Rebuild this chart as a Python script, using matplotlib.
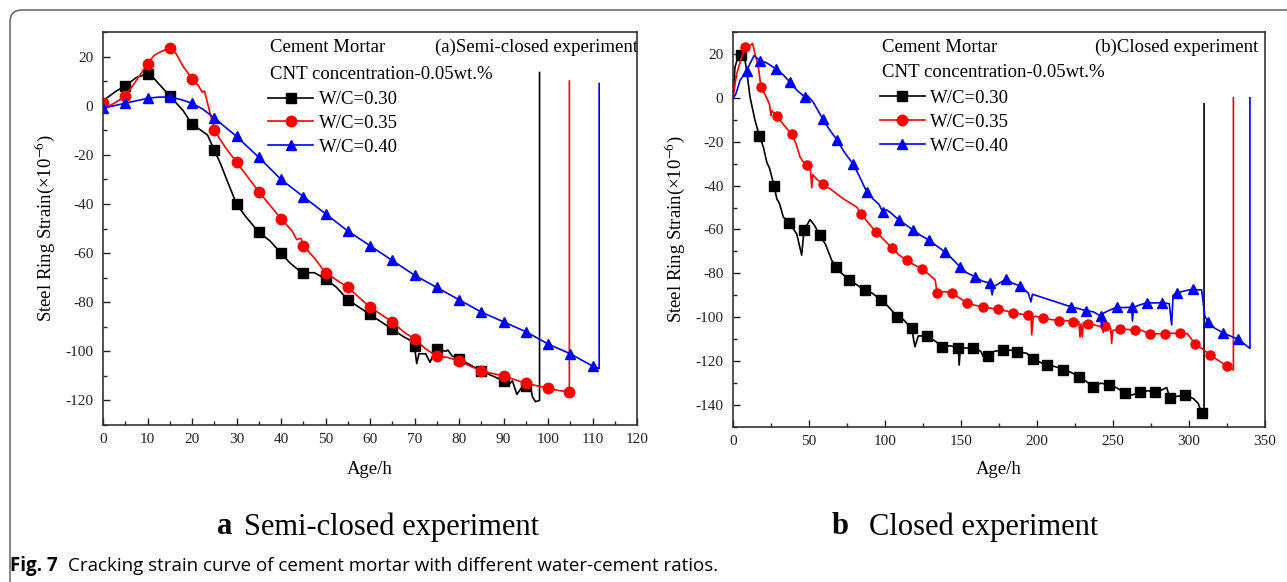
import numpy as np
import matplotlib
matplotlib.use("Agg")
import matplotlib.pyplot as plt
from matplotlib.lines import Line2D
from matplotlib.patches import FancyBboxPatch
from matplotlib.transforms import IdentityTransform
from matplotlib.ticker import MultipleLocator

plt.rcParams['font.family'] = 'Liberation Serif'
plt.rcParams['mathtext.fontset'] = 'stix'
plt.rcParams['axes.unicode_minus'] = False

series_labels = ["W/C=0.30", "W/C=0.35", "W/C=0.40"]

# ---- (a) semi-closed experiment: age (h) and strain (x1e-6) ----
a_h30 = [0, 1.5, 3, 5, 7.5, 10, 11, 12.5, 14, 15, 16, 18, 20, 22, 23.5, 25, 26.5, 28, 30, 32,
         35, 37.5, 40, 42, 44, 45, 47.5, 50, 52.5, 55, 57.5, 60, 62.5, 65, 67.5, 69.5, 70, 70.5,
         71, 72.5, 73.5, 74.5, 75, 76, 77, 77.5, 78.5, 80, 82.5, 85, 87.5, 90, 91, 92, 93, 94,
         95, 96, 96.5, 97.2, 98.1, 98.1]
a_s30 = [2, 4, 6, 8, 11.5, 13, 12, 9, 6, 4, 2, -2, -7.5, -10, -12, -18, -24, -31, -40, -45,
         -51.5, -55, -60, -64, -67, -68, -68, -70.5, -74, -79, -82, -85, -88, -91, -94, -96, -98,
         -105, -101, -101, -104.5, -100, -99, -99.5, -100, -99.5, -102, -103, -105.5, -108, -110,
         -112, -114, -112, -117.5, -115, -114, -114, -118.5, -120.5, -120, 13.5]
a_mh30 = [5, 10, 15, 20, 25, 30, 35, 40, 45, 50, 55, 60, 65, 70, 75, 80, 85, 90, 95]
a_ms30 = [8, 13, 4, -7.5, -18, -40, -51.5, -60, -68, -70.5, -79, -85, -91, -98, -99, -103, -108,
          -112, -114]

a_h35 = [0, 1.5, 3, 5, 7, 8.5, 10, 11.5, 13, 15, 16.5, 18, 20, 21.5, 22.3, 22.8, 23.5, 24.2, 25,
         27.5, 30, 32.5, 35, 37.5, 40, 42.5, 43.5, 44.5, 45, 47.5, 50, 52.5, 55, 57.5, 60, 62.5,
         65, 67.5, 70, 72.5, 75, 77.5, 80, 82.5, 85, 87.5, 90, 92.5, 95, 97.5, 100, 102.5, 104.8,
         104.8]
a_s35 = [1, 0, 1.5, 4, 9, 13, 17, 20.5, 22, 23.5, 21, 16, 11, 8, 5.5, 6, 1, -4, -10, -17, -23,
         -29, -35, -40.5, -46, -51, -54.5, -54, -57, -62, -68, -71, -74, -78, -82, -85, -88, -92,
         -95, -99, -102, -102.5, -104, -106, -108, -109, -110, -111.5, -113, -114, -115, -116,
         -116.5, 10]
a_mh35 = [0, 5, 10, 15, 20, 25, 30, 35, 40, 45, 50, 55, 60, 65, 70, 75, 80, 85, 90, 95, 100, 104.8]
a_ms35 = [1, 4, 17, 23.5, 11, -10, -23, -35, -46, -57, -68, -74, -82, -88, -95, -102, -104, -108,
          -110, -113, -115, -116.5]

a_h40 = [0, 2.5, 5, 7.5, 10, 12.5, 15, 17.5, 20, 22.5, 25, 30, 35, 40, 45, 50, 55, 60, 65, 70, 75,
         80, 85, 90, 95, 100, 105, 110, 111.5, 111.5]
a_s40 = [-1, 0, 1, 2, 3, 3.5, 3.5, 2.5, 1, -1.5, -5, -12.5, -21, -30, -37, -44, -51, -57, -63, -69,
         -74, -79, -84, -88, -92, -97, -101, -106, -107, 9]
a_mh40 = [0, 5, 10, 15, 20, 25, 30, 35, 40, 45, 50, 55, 60, 65, 70, 75, 80, 85, 90, 95, 100, 105, 110]
a_ms40 = [-1, 1, 3, 3.5, 1, -5, -12.5, -21, -30, -37, -44, -51, -57, -63, -69, -74, -79, -84, -88,
          -92, -97, -101, -106]

# ---- (b) closed experiment ----
b_h30 = [0, 1.3, 3.5, 5.3, 6.4, 7.9, 9, 11.2, 14.5, 17.3, 20, 22.2, 24, 27, 28.8, 30.5, 33.1,
         37.1, 41.9, 45.2, 46.7, 50.7, 53.5, 57.2, 61, 64.9, 67.8, 71.5, 76.5, 81, 86.8, 91.5,
         97.2, 102, 108.1, 112, 116.4, 117.5, 119.7, 121.9, 127.4, 133.3, 137.3, 143, 148.2,
         148.8, 149.5, 152, 157.7, 163, 165.8, 166.5, 168, 172, 177.8, 183, 187, 193.2, 197.6,
         202, 206.4, 212, 217.3, 222, 227.8, 232, 237, 242, 247.6, 252, 257.9, 262.7, 267.8, 273,
         277.6, 282.5, 285.3, 287.5, 292, 297.4, 302.8, 306.1, 308.3, 309.9, 309.9]
b_s30 = [0, 14, 19, 19.5, 20.7, 17, 12.4, 0.3, -10.3, -17.2, -22.5, -29.3, -32, -40, -46, -48,
         -54.3, -57, -62, -71.7, -60.4, -55.5, -58, -62.6, -67, -74, -77, -80, -82.8, -85, -87.7,
         -89, -91.9, -95, -99.8, -101, -104.4, -105, -113.4, -108.5, -108.5, -111, -113.4, -113,
         -113.9, -121.8, -115, -114, -113.9, -115.5, -119.5, -116, -117.7, -115.5, -114.9, -115,
         -115.7, -116.4, -119, -120.5, -121.8, -122.5, -123.8, -125, -127.1, -129, -131.7, -130,
         -130.9, -132, -134.4, -135.4, -134, -133.5, -134, -133, -132, -137, -136, -135.5, -137,
         -139.3, -143.4, -143.4, -2.7]
b_mh30 = [5.3, 17.3, 27, 37.1, 46.7, 57.2, 67.8, 76.5, 86.8, 97.2, 108.1, 117.5, 127.4, 137.3,
          148.2, 157.7, 168, 177.8, 187, 197.6, 206.4, 217.3, 227.8, 237, 247.6, 257.9, 267.8,
          277.6, 287.5, 297.4, 308.3]
b_ms30 = [19.5, -17.2, -40, -57, -60.4, -62.6, -77, -82.8, -87.7, -91.9, -99.8, -105, -108.5,
          -113.4, -113.9, -113.9, -117.7, -114.9, -115.7, -119, -121.8, -123.8, -127.1, -131.7,
          -130.9, -134.4, -134, -134, -137, -135.5, -143.4]

b_h35 = [0, 2.4, 5, 7.9, 11.2, 12.9, 14.5, 16.7, 18.4, 21.5, 24, 25, 25.4, 27, 29.2, 33, 38.6,
         41.5, 44.1, 46, 48.9, 51, 51.8, 52.5, 55, 59.4, 64, 72.6, 81.4, 84.2, 89, 94.1, 99,
         104.4, 109, 114.3, 119, 124.1, 129, 133, 134.3, 139, 143.9, 148.5, 153.7, 159, 164.3,
         169, 174.1, 179, 184.4, 189, 194.3, 196, 196.5, 197.5, 199, 204.2, 209, 214.7, 219,
         223.9, 227.5, 228.3, 229, 229.8, 230.5, 233.8, 238, 243, 243.6, 244.5, 248.5, 249.1,
         249.8, 254.6, 259, 264.5, 269, 274.3, 279, 284.2, 289, 294.1, 299, 304, 309, 313.8, 319,
         324.8, 329.2, 329.2]
b_s35 = [0, 10.9, 17, 23, 23.8, 24.8, 20, 13.9, 4.8, 1, -3, -8, -5.8, -7, -8.5, -12, -16.7, -21,
         -27, -29, -30.8, -33, -41, -35, -37, -39.4, -41.5, -46, -49.8, -52.8, -57, -61.1, -64.5,
         -68.3, -71.5, -74, -76, -77.8, -80.5, -83, -88.9, -88.3, -88.8, -91, -93.3, -94.5, -95.2,
         -95.8, -96.3, -97, -97.9, -98.5, -99, -98.5, -108, -100, -99.5, -100.5, -101, -101.5,
         -101.5, -102, -102, -109, -103, -109, -102.5, -103, -103.5, -104.5, -107, -104, -105,
         -111.9, -106, -105.5, -105.5, -105.8, -106, -107.6, -107.5, -107.4, -107.3, -107.3,
         -107.5, -112.2, -114.5, -117.2, -119.5, -122.2, -124, 0]
b_mh35 = [7.9, 18.4, 29.2, 38.6, 48.9, 59.4, 84.2, 94.1, 104.4, 114.3, 124.1, 134.3, 143.9, 153.7,
          164.3, 174.1, 184.4, 194.3, 204.2, 214.7, 223.9, 233.8, 244.5, 254.6, 264.5, 274.3,
          284.2, 294.1, 304, 313.8, 324.8]
b_ms35 = [23, 4.8, -8.5, -16.7, -30.8, -39.4, -52.8, -61.1, -68.3, -74, -77.8, -88.9, -88.8,
          -93.3, -95.2, -96.3, -97.9, -99, -100.5, -101.5, -102, -103, -104, -105.5, -105.8,
          -107.6, -107.4, -107.3, -112.2, -117.2, -122.2]

b_h40 = [0, 2, 4.6, 9, 11.5, 13.8, 17.8, 22, 28.3, 33, 37.5, 42, 47.4, 49, 52.8, 59, 63, 68.6, 73,
         78.8, 83, 88, 92, 96, 98.5, 101, 104, 109.3, 114, 118.2, 123, 129.2, 134, 139.5, 143,
         149.3, 154, 159.2, 164, 169.1, 170.5, 171.5, 174, 179.6, 184, 188.8, 194.3, 196, 197,
         222.2, 227, 232.2, 237, 241.9, 242.5, 243.5, 247, 252.4, 257, 262.3, 262.8, 263.5, 267,
         272.6, 277, 282, 287, 288.6, 289.5, 292.3, 297, 302.4, 306, 308.3, 310.5, 312.7, 317,
         322.2, 327, 332.5, 340.1, 340.1]
b_s40 = [-0.5, 2, 7.9, 12.4, 16, 19.2, 17, 16, 13.2, 10.5, 7.1, 3.5, 0.3, 1, -2, -9.6, -14, -19.4,
         -24.5, -30, -35.5, -42.9, -46, -48.5, -52, -51, -52.5, -55.8, -58, -60.1, -62.5, -64.9,
         -67.5, -70.2, -72.5, -77, -79.8, -81.5, -83.5, -84.5, -89.8, -86, -85, -82.6, -84.5,
         -85.7, -89, -93, -89.5, -95.2, -96, -97, -97.5, -99.4, -104.3, -98.2, -97, -95.4, -95.6,
         -95.4, -101.7, -95.5, -94.5, -93.3, -93.5, -93.3, -93.8, -103.5, -90, -88.8, -88, -87.2,
         -87.5, -87.5, -99.7, -102, -105, -107, -108.5, -110, -114.2, 0]
b_mh40 = [9, 17.8, 28.3, 37.5, 47.4, 59, 68.6, 78.8, 88, 98.5, 109.3, 118.2, 129.2, 139.5, 149.3,
          159.2, 169.1, 179.6, 188.8, 222.2, 232.2, 241.9, 252.4, 262.3, 272.6, 282, 292.3, 302.4,
          312.7, 322.2, 332.5]
b_ms40 = [12.4, 17, 13.2, 7.1, 0.3, -9.6, -19.4, -30, -42.9, -52, -55.8, -60.1, -64.9, -70.2, -77,
          -81.5, -84.5, -82.6, -85.7, -95.2, -97, -99.4, -95.4, -95.4, -93.3, -93.3, -88.8, -87.2,
          -102, -107, -110]

colors = ['black', '#ff0000', '#0000ff']
marks = ['s', 'o', '^']

W, H = 1287, 582
fig = plt.figure(figsize=(W / 100, H / 100), dpi=100)

# outer rounded frame (only top and left edges show)
frame = FancyBboxPatch((10, -60), 1400, H - 10 + 60, boxstyle="round,pad=0,rounding_size=12",
                       transform=IdentityTransform(), fill=False, ec='#555555', lw=1.0)
fig.add_artist(frame)

axa = fig.add_axes([103 / W, 1 - 425 / H, (637 - 103) / W, (425 - 32) / H])
axb = fig.add_axes([733 / W, 1 - 427 / H, (1265 - 733) / W, (427 - 32) / H])


def draw(ax, curves, markers, msize):
    for (h, s), (mh, ms), c, m in zip(curves, markers, colors, marks):
        ax.plot(h, s, color=c, lw=1.2)
        ax.plot(mh, ms, ls='none', marker=m, color=c, ms=msize)


draw(axa, [(a_h30, a_s30), (a_h35, a_s35), (a_h40, a_s40)],
     [(a_mh30, a_ms30), (a_mh35, a_ms35), (a_mh40, a_ms40)], 7.5)
draw(axb, [(b_h30, b_s30), (b_h35, b_s35), (b_h40, b_s40)],
     [(b_mh30, b_ms30), (b_mh35, b_ms35), (b_mh40, b_ms40)], 6.5)

axa.set_xlim(0, 120)
axa.set_ylim(-130, 30)
axa.xaxis.set_major_locator(MultipleLocator(10))
axa.xaxis.set_minor_locator(MultipleLocator(5))
axb.set_xlim(0, 350)
axb.set_ylim(-150, 30)
axb.xaxis.set_major_locator(MultipleLocator(50))
axb.xaxis.set_minor_locator(MultipleLocator(25))

for ax in (axa, axb):
    ax.yaxis.set_major_locator(MultipleLocator(20))
    ax.yaxis.set_minor_locator(MultipleLocator(10))
    ax.tick_params(which='both', direction='in', top=False, right=False, labelsize=11,
                   colors='#222222')
    ax.tick_params(axis='y', which='major', length=5, width=1, pad=7)
    ax.tick_params(axis='x', which='major', length=5, width=1, pad=6)
    ax.tick_params(which='minor', length=3, width=1)
    for sp in ax.spines.values():
        sp.set_linewidth(1.2)
        sp.set_color('#333333')
    ax.set_xlabel('Age/h', fontsize=13.5, va='center')
    ax.set_ylabel('Steel Ring Strain(×10$^{-6}$)', fontsize=13.5, va='center')
    ax.yaxis.set_label_coords(-0.109, 0.5)
    handles = [Line2D([], [], color=c, marker=m, ms=7.5, lw=1.2) for c, m in zip(colors, marks)]
    if ax is axa:
        x0, y1, y2, ly, lbl = 0.313, 0.96, 0.891, 0.85, '(a)Semi-closed experiment'
        tx = 0.622
        ax.xaxis.set_label_coords(0.5, -45 / 393)
    else:
        x0, y1, y2, ly, lbl = 0.28, 0.962, 0.898, 0.854, '(b)Closed experiment'
        tx = 0.68
        ax.xaxis.set_label_coords(0.5, -43 / 395)
    ax.text(x0, y1, 'Cement Mortar', transform=ax.transAxes, va='center', fontsize=13.5)
    ax.text(x0, y2, 'CNT concentration-0.05wt.%', transform=ax.transAxes, va='center',
            fontsize=13.5)
    t = ax.text(tx, y1, lbl, transform=ax.transAxes, va='center', fontsize=13.5)
    t.set_clip_on(True)
    ax.legend(handles, series_labels, loc='upper left', bbox_to_anchor=(x0 - 0.004, ly),
              frameon=False, fontsize=13.5, borderpad=0, borderaxespad=0, handlelength=2.4,
              handletextpad=0.3, labelspacing=0.36, numpoints=1)

# sub captions
fig.text(217 / W, 1 - 527 / H, 'a', fontsize=22, weight='bold', va='center')
fig.text(244 / W, 1 - 527 / H, 'Semi-closed experiment', fontsize=22, va='center')
fig.text(832 / W, 1 - 527 / H, 'b', fontsize=22, weight='bold', va='center')
fig.text(869 / W, 1 - 527 / H, 'Closed experiment', fontsize=22, va='center')

# figure caption
fig.text(10 / W, 1 - 566 / H, 'Fig. 7', fontsize=13.5, weight='bold', family='Open Sans',
         va='center')
fig.text(68 / W, 1 - 566 / H, 'Cracking strain curve of cement mortar with different water-cement ratios.',
         fontsize=13.5, family='Open Sans', va='center')

fig.savefig('out.png', dpi=100)
